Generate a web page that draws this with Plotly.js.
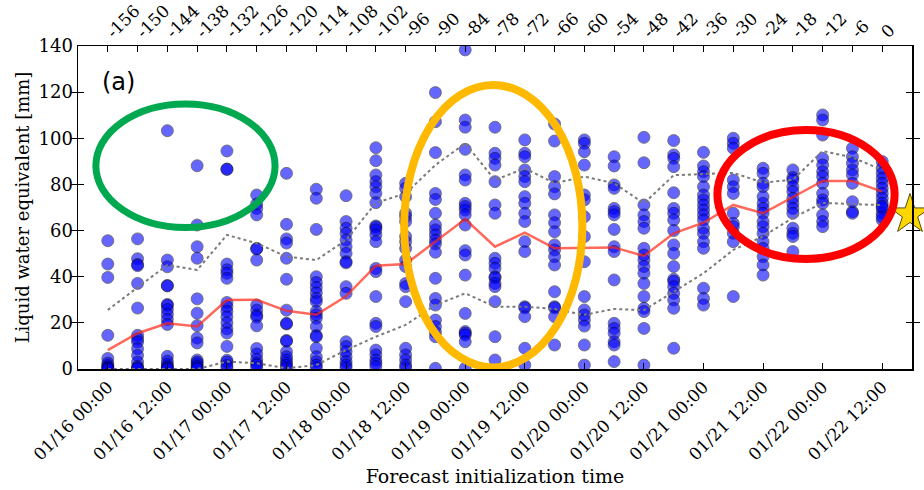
<!DOCTYPE html>
<html><head><meta charset="utf-8">
<script src="https://cdn.plot.ly/plotly-3.0.1.min.js"></script>
<style>html,body{margin:0;padding:0;background:#fff}#chart{width:924px;height:490px}</style>
</head><body><div id="chart"></div>
<script>
const leadHours = [-156,-150,-144,-138,-132,-126,-120,-114,-108,-102,-96,-90,-84,-78,-72,-66,-60,-54,-48,-42,-36,-30,-24,-18,-12,-6,0];
const initLabels = ['01/16 00:00','01/16 12:00','01/17 00:00','01/17 12:00','01/18 00:00','01/18 12:00','01/19 00:00','01/19 12:00','01/20 00:00','01/20 12:00','01/21 00:00','01/21 12:00','01/22 00:00','01/22 12:00'];
const initLabelLeads = [-156,-144,-132,-120,-108,-96,-84,-72,-60,-48,-36,-24,-12,0];

// ensemble member values [mm] per forecast initialization (lead hour)
const memberValues = [
  [55.6,45.5,39.7,14.6,4.6,2.5,1.5,0.8,0.3,0],
  [56.4,47.8,45.3,44.8,37.1,26.4,14.6,13,11.7,8.8,5.9,3.0,1.0,0.5,0],
  [103.3,47.2,44.3,36.2,36.0,28.0,27.6,25.8,23.7,21.5,19.3,5.5,3.4,2.0,1.0,0.5,0],
  [88.1,62.4,53.0,48.0,30.4,24.2,18.8,13.4,11.3,3.9,3.0,2.2,1.2,0.5,0],
  [94.5,86.7,86.5,45.5,43,41.5,39.3,28.8,27.0,25.0,22.6,20.0,17.4,15.6,9.8,3.8,3.0,1.5,0.5],
  [75.4,71.5,69.6,66.8,52.3,52.0,47.2,27.7,25.5,23.3,22.5,18.7,8.9,6.5,4.2,2.5,1.7,0.5],
  [84.8,62.7,56.4,54.6,48.0,38.9,25.5,19.5,19.8,12.4,12.0,7.5,5.3,3.9,2.5,1.5,0.5],
  [77.9,74.0,60.5,40.0,37.5,35.3,33.0,30.6,29.2,25.0,23.5,22.0,18.4,14.5,14.0,9.0,5.3,3.2,1.7,0.5],
  [75.1,63.9,61.0,58.8,55.9,53.0,50.1,46.5,46.0,35.7,32.8,11.8,9.7,7.5,5.3,3.2,1.7,0.5],
  [95.9,90.3,84.1,81.2,79.0,76.1,72.1,62.0,61.5,60.3,58.1,55.2,43.6,42.2,31.4,19.8,18.4,8.2,6.1,3.9,2.5,1.0],
  [80.5,78.3,74.7,67.5,66.0,63.9,57.4,55.2,52.3,47.2,44.4,37.1,35.7,29.2,9.0,6.1,3.9,1.7,0.5],
  [119.8,107.2,93.8,76.1,73.5,67.5,62.4,60.3,58.1,55.9,54.2,50.6,39.3,30.6,27.7,21.2,18.4,16.0,14.0,0.3],
  [138.3,107.9,104.8,95.2,84.1,81.9,71.8,70.4,68.9,66.8,62.4,51.3,49.4,40.7,24.1,16.2,15.5,14.7,11.8,0.3],
  [104.8,93.5,91.3,88.4,81.2,71.1,67.5,48.0,45.8,43.6,40.0,39.5,37.1,35.7,29.2,14.0,3.9],
  [99.3,93.5,92.0,86.3,83.4,81.2,74.7,71.8,67.5,63.9,55.2,50.9,27.0,26.5,22.7,9.0,1.7],
  [106.2,98.8,83.4,79.0,75.9,66.8,63.4,59.5,53.8,51.6,48.7,45.1,33.5,27.0,26.5,22.7,10.4],
  [99.3,97.8,94.2,88.4,75.4,73.3,66.0,57.4,46.5,31.4,25.6,23.4,21.2,18.6,10.4,1.7],
  [92.0,88.0,79.8,78.3,69.6,68.2,66.8,60.5,53.0,50.9,38.6,19.8,17.6,15.5,11.8,10.4,3.2],
  [100.4,89.4,71.1,66.8,63.9,61.0,52.3,49.4,47.2,44.4,41.5,37.1,31.4,26.3,24.9,17.6,1.7],
  [99.0,92.8,91.3,87.7,76.4,69.6,67.5,64.6,60.0,53.8,50.1,44.4,38.9,38.0,35.7,32.8,29.9,26.3,9.0],
  [93.9,88.0,85.5,83.4,79.0,75.4,73.3,71.1,68.9,66.8,64.6,61.0,58.8,55.2,52.3,35.0,30.6,27.7],
  [100.0,97.8,95.7,81.9,79.0,76.1,67.5,63.1,61.7,58.8,55.2,31.4],
  [87.0,84.8,80.5,79.0,74.7,71.8,69.6,67.5,63.9,61.7,58.8,55.2,52.3,48.7,45.1,40.7],
  [86.3,83.0,81.9,79.0,76.9,74.0,71.8,69.6,67.5,61.0,58.8,57.4,50.9],
  [110.1,107.9,101.4,91.3,88.4,85.5,83.4,80.5,76.1,73.3,71.8,66.8,63.9,61.7],
  [95.7,92.0,89.2,86.3,84.1,80.5,72.5,68.2,67.5],
  [89.9,87.0,84.8,82.6,80.5,78.3,76.1,74.0,71.8,69.6,67.5,64.6,66.0,70.5]
];
const medianValues = [8.2,15.5,19.8,18.4,29.9,30.0,25.2,23.5,31.5,44.8,45.5,55.2,65.0,53.0,59.1,52.3,52.6,52.7,49.0,58.8,63.4,71.1,67.5,74.5,81.5,81.5,76.9];
const upperValues = [25.6,35.5,45.1,42.9,58.1,54.5,48.7,47.2,55.9,72.0,76.1,88.4,97.8,81.9,87.0,80.5,83.4,80.5,71.8,84.0,84.5,85.0,80.8,82.0,94.5,91.7,86.3];
const lowerValues = [0,0,0,0,3.2,2.5,0.3,1.7,8.2,14.0,19.1,27.7,32.8,27.0,27.0,26.0,23.5,26.0,25.5,33.5,41.5,51.6,57.5,65.5,72.0,71.5,71.0];
const obsLead = [5.6];
const obsValue = [67];

const ptsX = [], ptsY = [];
memberValues.forEach((vals, i) => vals.forEach(v => { ptsX.push(leadHours[i]); ptsY.push(v); }));

const serif = 'DejaVu Serif, serif';
const traces = [
  {x: ptsX, y: ptsY, type: 'scatter', mode: 'markers', showlegend: false,
   marker: {size: 12, color: 'rgb(0,0,255)', opacity: 0.6, line: {color: 'black', width: 0.8}}},
  {x: leadHours, y: upperValues, type: 'scatter', mode: 'lines', showlegend: false,
   line: {color: '#7a7a7a', width: 2, dash: 'dot'}},
  {x: leadHours, y: lowerValues, type: 'scatter', mode: 'lines', showlegend: false,
   line: {color: '#7a7a7a', width: 2, dash: 'dot'}},
  {x: leadHours, y: medianValues, type: 'scatter', mode: 'lines', showlegend: false, xaxis: 'x2',
   line: {color: 'rgba(255,40,20,0.7)', width: 2.5}},
  {x: obsLead, y: obsValue, type: 'scatter', mode: 'markers', showlegend: false, cliponaxis: false,
   marker: {symbol: 'star', size: 30, color: '#FFD700', line: {color: '#5a4a00', width: 1}}}
];

const layout = {
  width: 924, height: 490,
  margin: {l: 78, r: 12, t: 46, b: 121},
  paper_bgcolor: 'white', plot_bgcolor: 'white',
  font: {family: serif, size: 17, color: 'black'},
  xaxis: {range: [-162, 6], tickmode: 'array', tickvals: initLabelLeads, ticktext: initLabels,
    tickangle: -45, ticks: 'inside', ticklen: 6, tickcolor: 'black', showgrid: false, zeroline: false,
    showline: true, linecolor: 'black', linewidth: 1.5, mirror: true,
    tickfont: {family: serif, size: 17},
    title: {text: 'Forecast initialization time', font: {family: serif, size: 19}, standoff: 6}},
  xaxis2: {range: [-162, 6], overlaying: 'x', side: 'top', anchor: 'y', tickmode: 'array',
    tickvals: leadHours, ticktext: leadHours.map(String), tickangle: -45, ticks: 'inside', ticklen: 6,
    tickcolor: 'black', showgrid: false, zeroline: false, showline: false,
    tickfont: {family: serif, size: 17}},
  yaxis: {range: [0, 140], tickvals: [0,20,40,60,80,100,120,140], ticks: 'inside', ticklen: 6,
    tickcolor: 'black', showgrid: false, zeroline: false, showline: true, linecolor: 'black',
    linewidth: 1.5, mirror: 'allticks', tickfont: {family: serif, size: 18},
    title: {text: 'Liquid water equivalent [mm]', font: {family: serif, size: 18}, standoff: 4}},
  shapes: [
    {type: 'circle', xref: 'x', yref: 'y', x0: -158.4, x1: -122.3, y0: 61.3, y1: 114.9,
     line: {color: '#00A84F', width: 7}, layer: 'above'},
    {type: 'circle', xref: 'x', yref: 'y', x0: -96.3, x1: -60.4, y0: 0.7, y1: 123.1,
     line: {color: '#FFB900', width: 8}, layer: 'above'},
    {type: 'circle', xref: 'x', yref: 'y', x0: -33.2, x1: 2.5, y0: 47.7, y1: 103.6,
     line: {color: '#FF0000', width: 8}, layer: 'above'}
  ],
  annotations: [
    {xref: 'paper', yref: 'paper', x: 0.026, y: 0.889, xanchor: 'left', yanchor: 'middle',
     text: '(a)', showarrow: false, font: {family: 'DejaVu Sans, sans-serif', size: 24, color: 'black'}}
  ]
};

Plotly.newPlot('chart', traces, layout, {displayModeBar: false, staticPlot: true});
</script>
</body></html>
